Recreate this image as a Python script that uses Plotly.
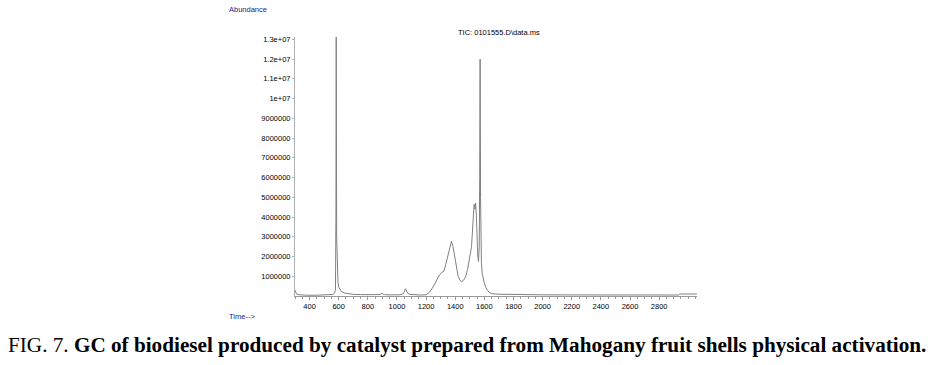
import plotly.graph_objects as go

# Chromatogram (scan number vs abundance)
scan = [300, 305, 310, 320, 340, 380, 450, 520, 560, 572, 578, 581, 583, 586, 590, 595, 600, 610, 620, 640,
        670, 700, 750, 800, 850, 880, 890, 897, 905, 915, 940, 980, 1020, 1040, 1050, 1055, 1060, 1066, 1075,
        1090, 1120, 1160, 1200, 1225, 1248, 1270, 1294, 1310, 1322, 1335, 1351, 1363, 1374, 1385, 1397, 1408,
        1420, 1432, 1443, 1455, 1470, 1485, 1500, 1512, 1523, 1530, 1535, 1540, 1545, 1550, 1555, 1560, 1565,
        1568, 1571, 1574, 1577, 1580, 1585, 1592, 1600, 1610, 1620, 1640, 1660, 1700, 1800, 2000, 2200, 2400,
        2600, 2800, 2900, 2935, 2942, 2960, 3000, 3060]
abundance = [300000, 160000, 100000, 70000, 50000, 40000, 40000, 50000, 80000, 150000, 350000, 4000000,
             13500000, 3000000, 1300000, 700000, 450000, 300000, 220000, 150000,
             100000, 80000, 70000, 60000, 60000, 70000, 100000, 140000, 90000, 70000, 60000, 50000, 60000,
             100000, 200000, 330000, 370000, 250000, 130000,
             80000, 60000, 50000, 60000, 200000, 460000, 750000, 1090000, 1200000, 1250000, 1600000, 2100000,
             2500000, 2770000, 2500000, 1940000, 1400000,
             1000000, 820000, 720000, 780000, 950000, 1350000, 1900000, 2500000, 3860000, 4650000, 4400000,
             4700000, 4100000, 2900000, 2000000, 1750000, 2500000,
             6000000, 12000000, 5000000, 2300000, 1700000, 1150000, 800000, 650000, 430000, 290000, 150000,
             110000, 90000, 70000, 60000, 55000, 50000,
             50000, 50000, 50000, 50000, 100000, 100000, 100000, 100000]

x_tick_vals = [400, 600, 800, 1000, 1200, 1400, 1600, 1800, 2000, 2200, 2400, 2600, 2800]
y_tick_vals = [1000000, 2000000, 3000000, 4000000, 5000000, 6000000, 7000000, 8000000, 9000000,
               10000000, 11000000, 12000000, 13000000]
y_tick_text = ["1000000", "2000000", "3000000", "4000000", "5000000", "6000000", "7000000", "8000000",
               "9000000", "1e+07", "1.1e+07", "1.2e+07", "1.3e+07"]

tick_font = dict(family="Liberation Sans Narrow, Arial Narrow, Liberation Sans, Arial", size=7.5, color="#000000")

fig = go.Figure()
fig.add_trace(go.Scatter(x=scan, y=abundance, mode="lines",
                         line=dict(color="#808080", width=1), hoverinfo="skip", showlegend=False))

fig.update_layout(
    width=933, height=365,
    margin=dict(l=295, r=236, t=37, b=69),
    paper_bgcolor="white", plot_bgcolor="white",
    xaxis=dict(range=[300, 3060], tickvals=x_tick_vals, ticktext=[str(v) for v in x_tick_vals],
               showgrid=False, zeroline=False, showline=True, linecolor="#9a9a9a", linewidth=1,
               ticks="outside", ticklen=3, tickcolor="#9a9a9a", tickfont=tick_font,
               minor=dict(dtick=50, ticks="outside", ticklen=2, tickcolor="#9a9a9a")),
    yaxis=dict(range=[0, 13120000], tickvals=y_tick_vals, ticktext=y_tick_text,
               showgrid=False, zeroline=False, showline=True, linecolor="#b0b0b0", linewidth=1,
               ticks="outside", ticklen=2, tickcolor="#b0b0b0", tickfont=tick_font),
)

ann_font = dict(family="Liberation Sans Narrow, Arial Narrow, Liberation Sans, Arial", size=7.5)
fig.add_annotation(text="Abundance", xref="paper", yref="paper", x=-0.169, y=1.106,
                   xanchor="left", yanchor="middle", showarrow=False, font=dict(color="#1a1a8c", **ann_font))
fig.add_annotation(text="Time-->", xref="paper", yref="paper", x=-0.169, y=-0.081,
                   xanchor="left", yanchor="middle", showarrow=False, font=dict(color="#1a1a8c", **ann_font))
fig.add_annotation(text="TIC: 0101555.D\\data.ms", xref="paper", yref="paper", x=0.507, y=1.019,
                   xanchor="center", yanchor="middle", showarrow=False, font=dict(color="#000000", **ann_font))
fig.add_annotation(text="FIG. 7. <b>GC of biodiesel produced by catalyst prepared from Mahogany fruit shells physical activation.</b>",
                   xref="paper", yref="paper", x=-0.719, y=-0.19, xanchor="left", yanchor="middle",
                   showarrow=False, font=dict(family="Liberation Serif, Times New Roman, serif", size=21.2, color="#000000"))

fig.write_html("out.html", config={"displayModeBar": False},
               post_script="document.body.style.margin='0';document.body.style.overflow='hidden';")
